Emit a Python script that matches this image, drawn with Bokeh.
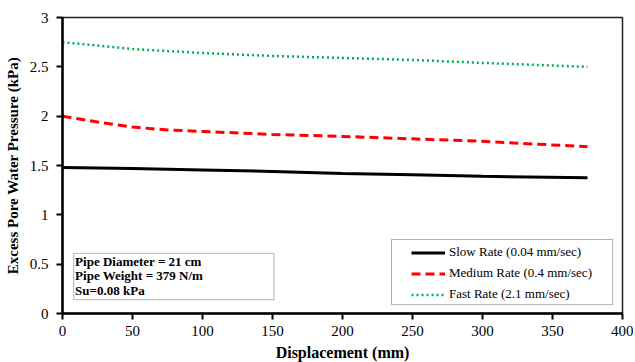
from bokeh.plotting import figure
from bokeh.models import Legend, LegendItem, BoxAnnotation, Label, FixedTicker
from bokeh.embed import file_html
from bokeh.resources import INLINE

# ---- data ----
slow_x = [0, 50, 100, 150, 200, 250, 300, 375]
slow_y = [1.48, 1.47, 1.455, 1.44, 1.42, 1.405, 1.39, 1.375]

medium_x = [0, 25, 50, 75, 100, 150, 200, 250, 300, 375]
medium_y = [2.0, 1.94, 1.89, 1.86, 1.845, 1.815, 1.795, 1.77, 1.745, 1.69]

fast_x = [0, 50, 100, 150, 200, 250, 300, 375]
fast_y = [2.75, 2.68, 2.64, 2.61, 2.59, 2.57, 2.54, 2.50]

series_labels = ["Slow Rate (0.04 mm/sec)", "Medium Rate (0.4 mm/sec)", "Fast Rate (2.1 mm/sec)"]

x_ticks = [0, 50, 100, 150, 200, 250, 300, 350, 400]
y_ticks = [0, 0.5, 1, 1.5, 2, 2.5, 3]
y_tick_labels = ["0", "0.5", "1", "1.5", "2", "2.5", "3"]

info_text = "Pipe Diameter = 21 cm\nPipe Weight = 379 N/m\nSu=0.08 kPa"

FONT = "Liberation Serif"

p = figure(
    frame_width=560, frame_height=296,
    min_border_left=62, min_border_top=17, min_border_right=11, min_border_bottom=47,
    x_range=(0, 400), y_range=(0, 3),
    output_backend="svg", toolbar_location=None,
    background_fill_color="white", border_fill_color="white",
)

p.xgrid.visible = False
p.ygrid.visible = False
p.outline_line_color = "#222222"
p.outline_line_width = 1.5

for ax in (p.xaxis[0], p.yaxis[0]):
    ax.axis_line_color = "black"
    ax.axis_line_width = 2.5
    ax.major_tick_line_color = "black"
    ax.major_tick_line_width = 2
    ax.major_tick_in = 0
    ax.major_tick_out = 6
    ax.minor_tick_line_color = None
    ax.major_label_text_font = FONT
    ax.major_label_text_font_size = "15px"
    ax.major_label_text_color = "black"
    ax.axis_label_text_font = FONT
    ax.axis_label_text_font_style = "bold"
    ax.axis_label_text_color = "black"

p.xaxis.axis_label_text_font_size = "16px"
p.yaxis.axis_label_text_font_size = "15px"
p.xaxis.ticker = FixedTicker(ticks=x_ticks)
p.yaxis.ticker = FixedTicker(ticks=y_ticks)
p.yaxis.major_label_overrides = {t: l for t, l in zip(y_ticks, y_tick_labels)}
p.xaxis.axis_label = "Displacement (mm)"
p.yaxis.axis_label = "Excess Pore Water Pressure (kPa)"
p.xaxis.major_label_standoff = 6
p.xaxis.axis_label_standoff = 5
p.yaxis.major_label_standoff = 8
p.yaxis.axis_label_standoff = 6

r_slow = p.line(slow_x, slow_y, line_color="black", line_width=3)
r_med = p.line(medium_x, medium_y, line_color="#ff0000", line_width=3, line_dash="9 5")
r_fast = p.line(fast_x, fast_y, line_color="#00b050", line_width=2.5, line_dash="2 3")

# legend border box (data units)
p.add_layout(BoxAnnotation(left=235, right=393, bottom=0.09, top=0.75,
                           fill_color="white", fill_alpha=1.0,
                           line_color="black", line_width=1, level="underlay"))

legend = Legend(
    items=[LegendItem(label=series_labels[0], renderers=[r_slow]),
           LegendItem(label=series_labels[1], renderers=[r_med]),
           LegendItem(label=series_labels[2], renderers=[r_fast])],
    location=(349, 11),
    border_line_color=None, background_fill_alpha=0,
    label_text_font=FONT, label_text_font_size="13px", label_text_color="black",
    glyph_width=34, glyph_height=15, label_height=15, spacing=5,
    label_standoff=4, padding=4, margin=0,
)
p.add_layout(legend, "center")

# info box
p.add_layout(BoxAnnotation(left=8, right=151, bottom=0.14, top=0.61,
                           fill_color="white", fill_alpha=1.0,
                           line_color="black", line_width=1, level="underlay"))
p.add_layout(Label(x=9, y=0.605, text=info_text, text_font=FONT,
                   text_font_size="13px", text_font_style="bold",
                   text_color="black", text_baseline="top", text_align="left",
                   text_line_height=0.98))

open("out.html", "w").write(file_html(p, INLINE))
